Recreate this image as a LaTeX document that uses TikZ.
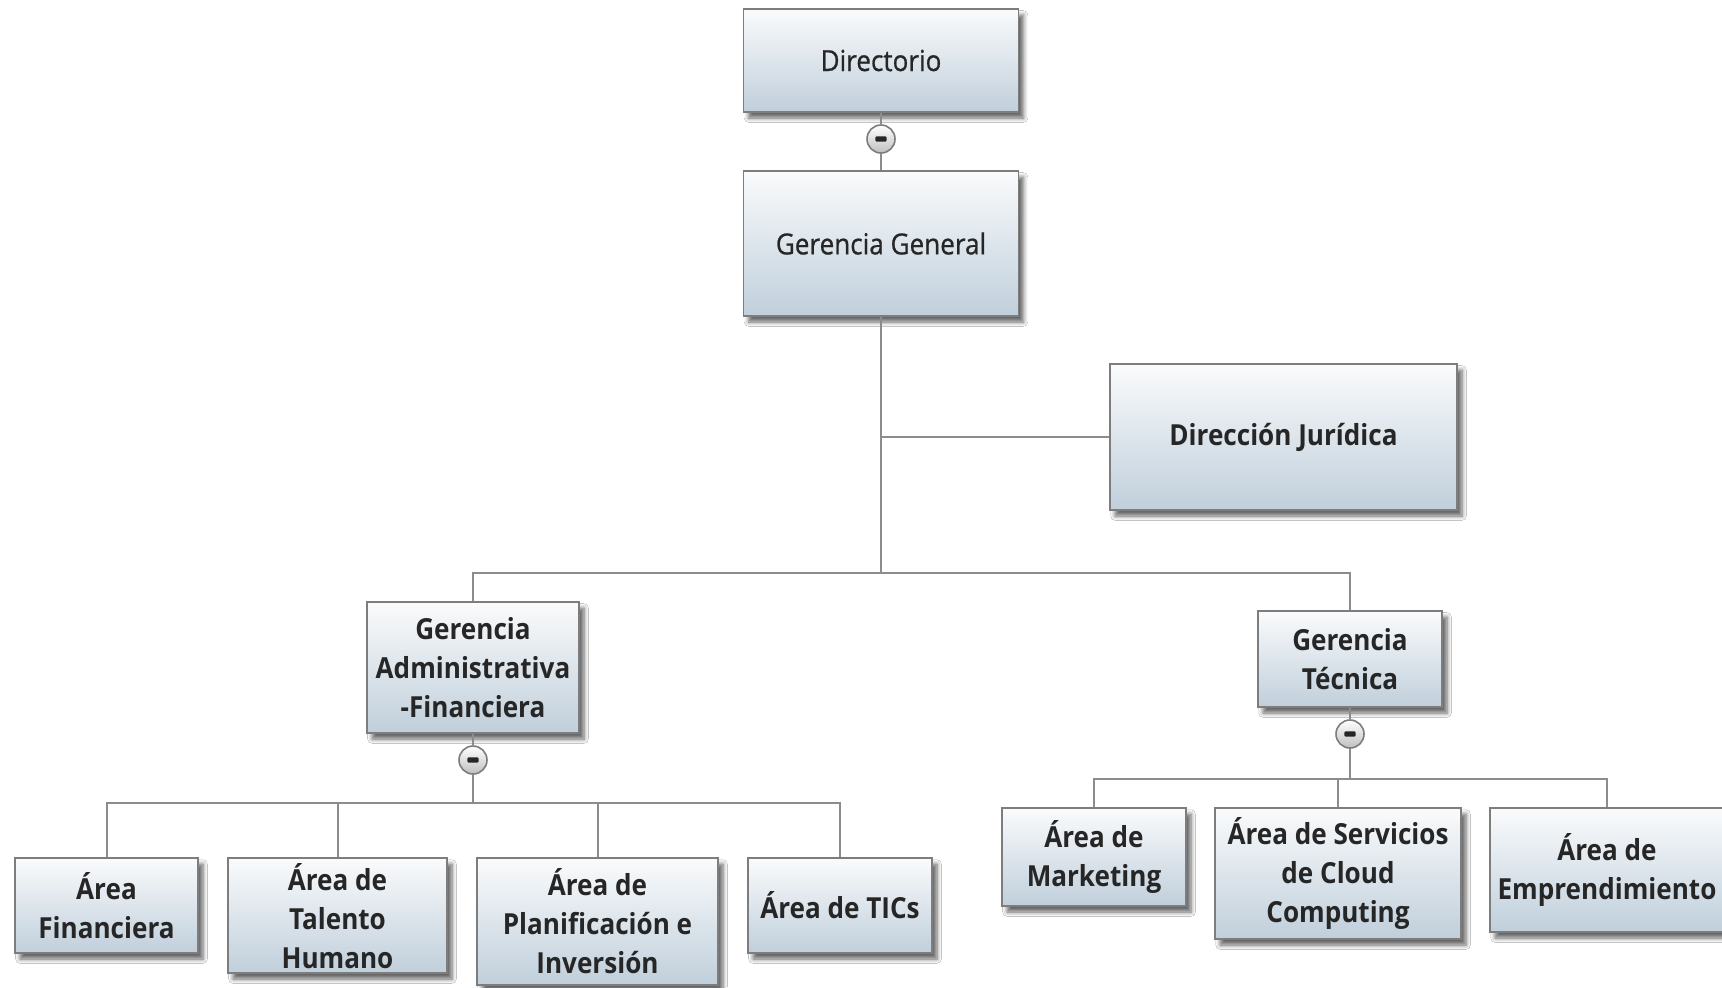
\documentclass[tikz,border=0pt]{standalone}
\usepackage{fontspec}
\setmainfont{Open Sans}[FakeStretch=0.9]
\newfontfamily\mediumfont{Open Sans}[FakeStretch=0.9, FakeBold=0.7]
\usetikzlibrary{shadows.blur,calc}

\definecolor{boxtop}{RGB}{250,251,252}
\definecolor{boxbottom}{RGB}{192,207,219}
\definecolor{boxframe}{RGB}{125,125,125}
\definecolor{linkgray}{RGB}{140,140,140}

\begin{document}
\begin{tikzpicture}[x=0.5pt, y=-0.5pt,
  box/.style={draw=boxframe, line width=0.9pt, top color=boxtop, bottom color=boxbottom,
    align=center, inner sep=1pt, text=black!85,
    font=\bfseries\fontsize{14.5}{19.5}\selectfont,
    blur shadow={shadow xshift=2.5pt, shadow yshift=-3pt, shadow blur steps=6, shadow opacity=60}},
  boxsize/.style 2 args={minimum width=#1*0.5pt, minimum height=#2*0.5pt},
  toptext/.style={font=\mediumfont\fontsize{14.5}{19.5}\selectfont},
  toggle/.style={circle, draw=boxframe, line width=0.8pt, top color=white, bottom color=black!25,
    minimum size=14pt, inner sep=0pt,
    path picture={\fill[black!85, rounded corners=0.5pt]
      ($(path picture bounding box.center)+(-2.8pt,1.3pt)$) rectangle
      ($(path picture bounding box.center)+(2.8pt,-1.3pt)$);}},
  link/.style={draw=linkgray, line width=1pt}]

\fill[white] (0,0) rectangle (1722,987);
\useasboundingbox (0,0) rectangle (1722,987);

% Top of the chart
\node[box, toptext, boxsize={275}{103}] (dir) at (881,60.5) {Directorio};
\node[box, toptext, boxsize={275}{145}] (gg) at (881,243.5) {Gerencia General};
\node[box, boxsize={347}{146}] (dj) at (1283.5,437) {Dirección Jurídica};

% Managements
\node[box, boxsize={212}{131}] (gaf) at (473,667.5) {Gerencia\\Administrativa\\-Financiera};
\node[box, boxsize={184}{96}] (gt) at (1350,659) {Gerencia\\Técnica};

% Areas under the administrative management
\node[box, boxsize={183}{95}] (af) at (106.5,905.5) {Área\\Financiera};
\node[box, boxsize={219}{115}, text depth=-6pt] (ath) at (337.5,915.5) {Área de\\Talento\\Humano};
\node[box, boxsize={241}{127}] (apl) at (597.5,921.5) {Área de\\Planificación e\\Inversión};
\node[box, boxsize={184}{95}] (atic) at (840,905.5) {Área de TICs};

% Areas under the technical management
\node[box, boxsize={184}{98}] (amk) at (1094,857) {Área de\\Marketing};
\node[box, boxsize={246}{131}] (acc) at (1338,873.5) {Área de Servicios\\de Cloud\\Computing};
\node[box, boxsize={234}{124}] (aem) at (1607,870) {Área de\\Emprendimiento};

% Collapse buttons
\node[toggle] (t1) at (881,139) {};
\node[toggle] (t2) at (473,760) {};
\node[toggle] (t3) at (1350,734) {};

% Junctions
\coordinate (j1) at (881,573);
\coordinate (j2) at (473,803);
\coordinate (j3) at (1350,779);

% Connectors
\draw[link] (dir) -- (t1) -- (gg);
\draw[link] (gg.south) -- (j1);
\draw[link] (gg.south |- dj.west) -- (dj.west);
\draw[link] (gaf.north) |- (j1) -| (gt.north);

\draw[link] (gaf) -- (t2) -- (j2);
\draw[link] (af.north) |- (j2) -| (atic.north);
\draw[link] (ath.north) -- (ath.north |- j2);
\draw[link] (apl.north) -- (apl.north |- j2);

\draw[link] (gt) -- (t3) -- (j3);
\draw[link] (amk.north) |- (j3) -| (aem.north);
\draw[link] (acc.north) -- (acc.north |- j3);

\end{tikzpicture}
\end{document}
